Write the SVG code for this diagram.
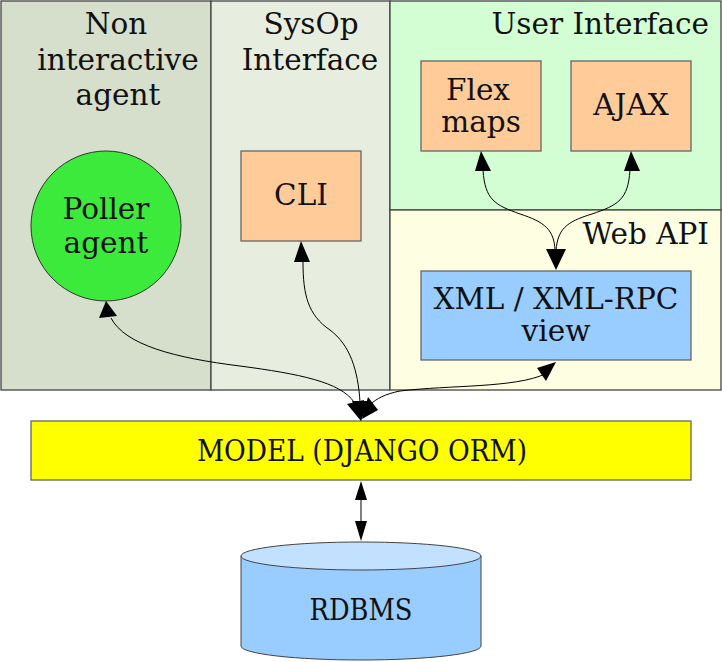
<svg xmlns="http://www.w3.org/2000/svg" width="722" height="662" viewBox="0 0 722 662">
<defs>
<style>
text{font-family:"DejaVu Serif","Liberation Serif",serif;font-size:29.5px;fill:#111;text-anchor:middle}
.cl{stroke:#444;stroke-width:1.3}
.nd{stroke:#666;stroke-width:1.3}
.cond{font-family:"DejaVu Serif Condensed","DejaVu Serif",serif;font-stretch:condensed}
.r{text-anchor:end}
.e{fill:none;stroke:#000;stroke-width:1}
.h{fill:#000}
</style>
</defs>
<rect width="722" height="662" fill="#fff"/>
<g id="cluster_nonint"><rect x="1" y="1" width="210" height="389" fill="#d6decc" class="cl"/>
<text x="116" y="34">Non</text><text x="118" y="70">interactive</text><text x="118" y="105">agent</text></g>
<g id="cluster_sysop"><rect x="211" y="1" width="179" height="389" fill="#e8eedf" class="cl"/>
<text x="311" y="34">SysOp</text><text x="310" y="70">Interface</text></g>
<g id="cluster_ui"><rect x="390" y="1" width="331" height="209" fill="#d3fdd3" class="cl"/>
<text x="709" y="34" class="r">User Interface</text></g>
<g id="cluster_webapi"><rect x="390" y="210" width="331" height="180" fill="#fefee2" class="cl"/>
<text x="709" y="244" class="r">Web API</text></g>
<g id="poller"><circle cx="106" cy="226" r="75" fill="#3bea3b" stroke="#333" stroke-width="1"/>
<text x="106" y="219">Poller</text><text x="106" y="253">agent</text></g>
<g id="cli"><rect x="241" y="151" width="120" height="90" fill="#ffcc99" class="nd"/>
<text x="301" y="205">CLI</text></g>
<g id="flex"><rect x="421" y="61" width="120" height="90" fill="#ffcc99" class="nd"/>
<text x="478" y="100">Flex</text><text x="481" y="132">maps</text></g>
<g id="ajax"><rect x="571" y="61" width="120" height="90" fill="#ffcc99" class="nd"/>
<text x="631" y="115">AJAX</text></g>
<g id="xml"><rect x="421" y="271" width="270" height="89" fill="#99ccff" class="nd"/>
<text x="556" y="309">XML / XML-RPC</text><text x="556" y="341">view</text></g>
<g id="model"><rect x="31" y="421" width="660" height="59" fill="#ffff00" class="nd"/>
<text x="362" y="461" class="cond" textLength="330" lengthAdjust="spacingAndGlyphs">MODEL (DJANGO ORM)</text></g>
<g id="rdbms">
<path d="M241,556 L241,646 A120,14 0 0 0 481,646 L481,556 Z" fill="#99ccff" stroke="#444" stroke-width="1"/>
<ellipse cx="361" cy="556" rx="120" ry="14" fill="#c2e0ff" stroke="#444" stroke-width="1"/>
<text x="361" y="620" class="cond" textLength="103" lengthAdjust="spacingAndGlyphs">RDBMS</text></g>
<g id="connectors">
<path class="e" d="M111,318 C125,345 175,358 240,366 C300,374 340,382 354,402"/>
<path class="h" d="M106,301 L99,318 L117,316 Z"/>
<path class="h" d="M347,404 L361,421 L364,400 Z"/>
<path class="e" d="M303,262 C303,295 308,315 330,330 C350,345 358,370 360,402"/>
<path class="h" d="M301,241 L294,262 L310,262 Z"/>
<path class="h" d="M352,401 L361,421 L369,401 Z"/>
<path class="e" d="M545,374 C515,388 450,385 400,391 C385,394 376,399 371,404"/>
<path class="h" d="M556,362 L537,368 L546,381 Z"/>
<path class="h" d="M362,419 L378,410 L368,397 Z"/>
<path class="e" d="M483,170 C485,200 495,205 520,214 C545,222 554,230 555,250"/>
<path class="h" d="M481,151 L475,171 L491,171 Z"/>
<path class="e" d="M630,170 C628,200 618,205 592,214 C565,222 558,230 556,250"/>
<path class="h" d="M631,151 L624,171 L640,171 Z"/>
<path class="h" d="M556,270 L546,249 L566,249 Z"/>
<path class="h" d="M361,481 L355,500 L367,500 Z"/>
<path class="h" d="M361,541 L355,521 L367,521 Z"/>
<path class="e" d="M361,500 L361,521"/>
</g>
</svg>
